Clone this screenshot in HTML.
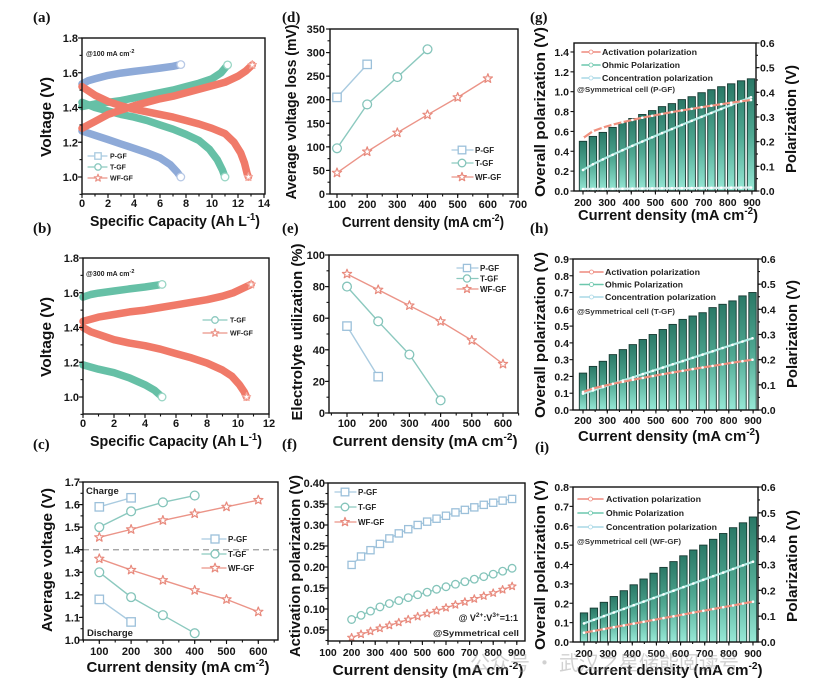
<!DOCTYPE html>
<html><head><meta charset="utf-8">
<style>
html,body{margin:0;padding:0;background:#fff;}
svg{display:block;font-family:"Liberation Sans","Noto Sans CJK SC",sans-serif;}
.t{font-size:11px;font-weight:bold;fill:#161616;}
.ts{font-size:10.5px;font-weight:bold;fill:#161616;}
.ti{font-size:15px;font-weight:bold;fill:#111;}
.pl{font-family:"Liberation Serif",serif;font-size:15px;font-weight:bold;fill:#111;}
.lg{font-size:8px;font-weight:bold;fill:#222;}
.lg7{font-size:7px;font-weight:bold;fill:#222;}
.wm{font-family:"Noto Sans CJK SC",sans-serif;font-size:20px;fill:#9a9a9a;opacity:0.45;}
</style></head><body>
<svg id="s" width="830" height="696" viewBox="0 0 830 696" xmlns="http://www.w3.org/2000/svg">
<defs>
<linearGradient id="bg" x1="0" y1="0" x2="0" y2="1">
<stop offset="0" stop-color="#2a7866"/><stop offset="0.5" stop-color="#4fa892"/><stop offset="1" stop-color="#97e8d6"/>
</linearGradient>
</defs>
<rect width="830" height="696" fill="#fff"/>
<g id="data"></g>
<g id="axes"></g>

<!-- panel labels -->
<text class="pl" x="33" y="22">(a)</text>
<text class="pl" x="33" y="233">(b)</text>
<text class="pl" x="33" y="449">(c)</text>
<text class="pl" x="282" y="22">(d)</text>
<text class="pl" x="282" y="233">(e)</text>
<text class="pl" x="282" y="449">(f)</text>
<text class="pl" x="530" y="22">(g)</text>
<text class="pl" x="530" y="233">(h)</text>
<text class="pl" x="535" y="452">(i)</text>

<!-- (a) -->
<g class="t" text-anchor="end">
<text x="78" y="42">1.8</text><text x="78" y="76.8">1.6</text><text x="78" y="111.5">1.4</text><text x="78" y="146.3">1.2</text><text x="78" y="181">1.0</text>
</g>
<g class="t" text-anchor="middle">
<text x="82" y="207">0</text><text x="108" y="207">2</text><text x="134" y="207">4</text><text x="160" y="207">6</text><text x="186" y="207">8</text><text x="212" y="207">10</text><text x="238" y="207">12</text><text x="264" y="207">14</text>
</g>
<text class="ti" x="175" y="226" text-anchor="middle" textLength="170" lengthAdjust="spacingAndGlyphs">Specific Capacity (Ah L<tspan dy="-6" font-size="10">-1</tspan><tspan dy="6">)</tspan></text>
<text class="ti" transform="translate(51,117) rotate(-90)" text-anchor="middle" textLength="80" lengthAdjust="spacingAndGlyphs">Voltage (V)</text>
<text class="lg7" x="86" y="56">@100 mA cm<tspan dy="-3" font-size="5.5">-2</tspan></text>
<text class="lg7" x="110" y="158.5">P-GF</text>
<text class="lg7" x="110" y="169.5">T-GF</text>
<text class="lg7" x="110" y="180.5">WF-GF</text>

<!-- (b) -->
<g class="t" text-anchor="end">
<text x="79" y="262">1.8</text><text x="79" y="296.8">1.6</text><text x="79" y="331.5">1.4</text><text x="79" y="366.3">1.2</text><text x="79" y="401">1.0</text>
</g>
<g class="t" text-anchor="middle">
<text x="83" y="427">0</text><text x="114" y="427">2</text><text x="145" y="427">4</text><text x="176" y="427">6</text><text x="207" y="427">8</text><text x="238" y="427">10</text><text x="269" y="427">12</text>
</g>
<text class="ti" x="176" y="446" text-anchor="middle" textLength="172" lengthAdjust="spacingAndGlyphs">Specific Capacity (Ah L<tspan dy="-6" font-size="10">-1</tspan><tspan dy="6">)</tspan></text>
<text class="ti" transform="translate(51,337) rotate(-90)" text-anchor="middle" textLength="80" lengthAdjust="spacingAndGlyphs">Voltage (V)</text>
<text class="lg7" x="86" y="276">@300 mA cm<tspan dy="-3" font-size="5.5">-2</tspan></text>
<text class="lg7" x="230" y="322.5">T-GF</text>
<text class="lg7" x="230" y="335.5">WF-GF</text>

<!-- (c) -->
<g class="t" text-anchor="end">
<text x="80" y="486">1.7</text><text x="80" y="508.6">1.6</text><text x="80" y="531.1">1.5</text><text x="80" y="553.7">1.4</text><text x="80" y="576.3">1.3</text><text x="80" y="598.9">1.2</text><text x="80" y="621.4">1.1</text><text x="80" y="644">1.0</text>
</g>
<g class="t" text-anchor="middle">
<text x="99.3" y="655">100</text><text x="131.1" y="655">200</text><text x="162.9" y="655">300</text><text x="194.7" y="655">400</text><text x="226.5" y="655">500</text><text x="258.3" y="655">600</text>
</g>
<text class="ti" x="178" y="672" text-anchor="middle" textLength="183" lengthAdjust="spacingAndGlyphs">Current density (mA cm<tspan dy="-6" font-size="10">-2</tspan><tspan dy="6">)</tspan></text>
<text class="ti" transform="translate(52,560) rotate(-90)" text-anchor="middle" textLength="144" lengthAdjust="spacingAndGlyphs">Average voltage (V)</text>
<text x="86" y="494" font-size="9.5" font-weight="bold" fill="#222">Charge</text>
<text x="87" y="636" font-size="9.5" font-weight="bold" fill="#222">Discharge</text>
<text class="lg" x="228" y="542">P-GF</text>
<text class="lg" x="228" y="557">T-GF</text>
<text class="lg" x="228" y="571">WF-GF</text>

<!-- (d) -->
<g class="t" text-anchor="end">
<text x="325" y="33">350</text><text x="325" y="56.6">300</text><text x="325" y="80.2">250</text><text x="325" y="103.7">200</text><text x="325" y="127.3">150</text><text x="325" y="150.9">100</text><text x="325" y="174.4">50</text><text x="325" y="198">0</text>
</g>
<g class="t" text-anchor="middle">
<text x="337" y="208">100</text><text x="367.2" y="208">200</text><text x="397.3" y="208">300</text><text x="427.5" y="208">400</text><text x="457.7" y="208">500</text><text x="487.8" y="208">600</text><text x="518" y="208">700</text>
</g>
<text class="ti" x="423" y="227" text-anchor="middle" textLength="162" lengthAdjust="spacingAndGlyphs">Current density (mA cm<tspan dy="-6" font-size="10">-2</tspan><tspan dy="6">)</tspan></text>
<text class="ti" transform="translate(296,112) rotate(-90)" text-anchor="middle" textLength="175" lengthAdjust="spacingAndGlyphs">Average voltage loss (mV)</text>
<text class="lg" x="475" y="153">P-GF</text>
<text class="lg" x="475" y="166">T-GF</text>
<text class="lg" x="475" y="180">WF-GF</text>

<!-- (e) -->
<g class="t" text-anchor="end">
<text x="325" y="259">100</text><text x="325" y="290.6">80</text><text x="325" y="322.2">60</text><text x="325" y="353.8">40</text><text x="325" y="385.4">20</text><text x="325" y="417">0</text>
</g>
<g class="t" text-anchor="middle">
<text x="347" y="427">100</text><text x="378.2" y="427">200</text><text x="409.4" y="427">300</text><text x="440.6" y="427">400</text><text x="471.8" y="427">500</text><text x="503" y="427">600</text>
</g>
<text class="ti" x="425" y="446" text-anchor="middle" textLength="185" lengthAdjust="spacingAndGlyphs">Current density (mA cm<tspan dy="-6" font-size="10">-2</tspan><tspan dy="6">)</tspan></text>
<text class="ti" transform="translate(302,332) rotate(-90)" text-anchor="middle" textLength="177" lengthAdjust="spacingAndGlyphs">Electrolyte utilization (%)</text>
<text class="lg" x="480" y="271">P-GF</text>
<text class="lg" x="480" y="281.5">T-GF</text>
<text class="lg" x="480" y="292">WF-GF</text>

<!-- (f) -->
<g class="t" text-anchor="end">
<text x="325" y="487">0.40</text><text x="325" y="508">0.35</text><text x="325" y="529">0.30</text><text x="325" y="550">0.25</text><text x="325" y="571">0.20</text><text x="325" y="592">0.15</text><text x="325" y="613">0.10</text><text x="325" y="634">0.05</text>
</g>
<g class="ts" text-anchor="middle">
<text x="328" y="656">100</text><text x="351.6" y="656">200</text><text x="375.2" y="656">300</text><text x="398.8" y="656">400</text><text x="422.4" y="656">500</text><text x="446" y="656">600</text><text x="469.6" y="656">700</text><text x="493.2" y="656">800</text><text x="516.8" y="656">900</text>
</g>
<text class="ti" x="428" y="675" text-anchor="middle" textLength="191" lengthAdjust="spacingAndGlyphs">Current density (mA cm<tspan dy="-6" font-size="10">-2</tspan><tspan dy="6">)</tspan></text>
<text class="ti" transform="translate(300,566) rotate(-90)" text-anchor="middle" textLength="182" lengthAdjust="spacingAndGlyphs">Activation polarization (V)</text>
<text class="lg" x="358" y="495">P-GF</text>
<text class="lg" x="358" y="510">T-GF</text>
<text class="lg" x="358" y="525">WF-GF</text>
<text x="518" y="621" text-anchor="end" font-size="9" font-weight="bold" fill="#222">@ V<tspan dy="-4" font-size="6.5">2+</tspan><tspan dy="4">:V</tspan><tspan dy="-4" font-size="6.5">3+</tspan><tspan dy="4">=1:1</tspan></text>
<text x="519" y="636" text-anchor="end" font-size="8.5" font-weight="bold" fill="#222" textLength="86" lengthAdjust="spacingAndGlyphs">@Symmetrical cell</text>

<!-- (g) -->
<g class="ts" text-anchor="end">
<text x="569" y="56">1.4</text><text x="569" y="75.8">1.2</text><text x="569" y="95.7">1.0</text><text x="569" y="115.6">0.8</text><text x="569" y="135.4">0.6</text><text x="569" y="155.3">0.4</text><text x="569" y="175.1">0.2</text><text x="569" y="195">0.0</text>
</g>
<g class="ts">
<text x="760" y="47">0.6</text><text x="760" y="71.7">0.5</text><text x="760" y="96.3">0.4</text><text x="760" y="121">0.3</text><text x="760" y="145.7">0.2</text><text x="760" y="170.3">0.1</text><text x="760" y="195">0.0</text>
</g>
<g class="ts" text-anchor="middle">
<text x="583" y="206">200</text><text x="607.1" y="206">300</text><text x="631.3" y="206">400</text><text x="655.4" y="206">500</text><text x="679.6" y="206">600</text><text x="703.7" y="206">700</text><text x="727.8" y="206">800</text><text x="752" y="206">900</text>
</g>
<text class="ti" x="668" y="220" text-anchor="middle" textLength="180" lengthAdjust="spacingAndGlyphs">Current density (mA cm<tspan dy="-6" font-size="10">-2</tspan><tspan dy="6">)</tspan></text>
<text class="ti" transform="translate(545,112) rotate(-90)" text-anchor="middle" textLength="170" lengthAdjust="spacingAndGlyphs">Overall polarization (V)</text>
<text class="ti" transform="translate(796,119) rotate(-90)" text-anchor="middle" textLength="108" lengthAdjust="spacingAndGlyphs">Polarization (V)</text>
<text class="lg" x="602" y="55" textLength="95" lengthAdjust="spacingAndGlyphs">Activation polarization</text>
<text class="lg" x="602" y="68" textLength="78" lengthAdjust="spacingAndGlyphs">Ohmic Polarization</text>
<text class="lg" x="602" y="81" textLength="111" lengthAdjust="spacingAndGlyphs">Concentration polarization</text>
<text x="577" y="92" font-size="7.5" font-weight="bold" fill="#333" textLength="98" lengthAdjust="spacingAndGlyphs">@Symmetrical cell (P-GF)</text>

<!-- (h) -->
<g class="ts" text-anchor="end">
<text x="569" y="263">0.9</text><text x="569" y="279.8">0.8</text><text x="569" y="296.5">0.7</text><text x="569" y="313.3">0.6</text><text x="569" y="330.1">0.5</text><text x="569" y="346.9">0.4</text><text x="569" y="363.7">0.3</text><text x="569" y="380.4">0.2</text><text x="569" y="397.2">0.1</text><text x="569" y="414">0.0</text>
</g>
<g class="ts">
<text x="761" y="263">0.6</text><text x="761" y="288.2">0.5</text><text x="761" y="313.3">0.4</text><text x="761" y="338.5">0.3</text><text x="761" y="363.7">0.2</text><text x="761" y="388.8">0.1</text><text x="761" y="414">0.0</text>
</g>
<g class="ts" text-anchor="middle">
<text x="583" y="424">200</text><text x="607.3" y="424">300</text><text x="631.6" y="424">400</text><text x="655.9" y="424">500</text><text x="680.1" y="424">600</text><text x="704.4" y="424">700</text><text x="728.7" y="424">800</text><text x="753" y="424">900</text>
</g>
<text class="ti" x="669" y="441" text-anchor="middle" textLength="182" lengthAdjust="spacingAndGlyphs">Current density (mA cm<tspan dy="-6" font-size="10">-2</tspan><tspan dy="6">)</tspan></text>
<text class="ti" transform="translate(545,335) rotate(-90)" text-anchor="middle" textLength="166" lengthAdjust="spacingAndGlyphs">Overall polarization (V)</text>
<text class="ti" transform="translate(797,334) rotate(-90)" text-anchor="middle" textLength="108" lengthAdjust="spacingAndGlyphs">Polarization (V)</text>
<text class="lg" x="605" y="275" textLength="95" lengthAdjust="spacingAndGlyphs">Activation polarization</text>
<text class="lg" x="605" y="287.5" textLength="78" lengthAdjust="spacingAndGlyphs">Ohmic Polarization</text>
<text class="lg" x="605" y="300" textLength="111" lengthAdjust="spacingAndGlyphs">Concentration polarization</text>
<text x="577" y="314" font-size="7.5" font-weight="bold" fill="#333" textLength="98" lengthAdjust="spacingAndGlyphs">@Symmetrical cell (T-GF)</text>

<!-- (i) -->
<g class="ts" text-anchor="end">
<text x="569" y="491">0.8</text><text x="569" y="510.4">0.7</text><text x="569" y="529.8">0.6</text><text x="569" y="549.1">0.5</text><text x="569" y="568.5">0.4</text><text x="569" y="587.9">0.3</text><text x="569" y="607.3">0.2</text><text x="569" y="626.6">0.1</text><text x="569" y="646">0.0</text>
</g>
<g class="ts">
<text x="761" y="491">0.6</text><text x="761" y="516.8">0.5</text><text x="761" y="542.7">0.4</text><text x="761" y="568.5">0.3</text><text x="761" y="594.3">0.2</text><text x="761" y="620.2">0.1</text><text x="761" y="646">0.0</text>
</g>
<g class="ts" text-anchor="middle">
<text x="584" y="657">200</text><text x="608.1" y="657">300</text><text x="632.3" y="657">400</text><text x="656.4" y="657">500</text><text x="680.6" y="657">600</text><text x="704.7" y="657">700</text><text x="728.9" y="657">800</text><text x="753" y="657">900</text>
</g>
<text class="ti" x="670" y="675" text-anchor="middle" textLength="185" lengthAdjust="spacingAndGlyphs">Current density (mA cm<tspan dy="-6" font-size="10">-2</tspan><tspan dy="6">)</tspan></text>
<text class="ti" transform="translate(545,565) rotate(-90)" text-anchor="middle" textLength="170" lengthAdjust="spacingAndGlyphs">Overall polarization (V)</text>
<text class="ti" transform="translate(797,566) rotate(-90)" text-anchor="middle" textLength="112" lengthAdjust="spacingAndGlyphs">Polarization (V)</text>
<text class="lg" x="606" y="502" textLength="95" lengthAdjust="spacingAndGlyphs">Activation polarization</text>
<text class="lg" x="606" y="516" textLength="78" lengthAdjust="spacingAndGlyphs">Ohmic Polarization</text>
<text class="lg" x="606" y="530" textLength="111" lengthAdjust="spacingAndGlyphs">Concentration polarization</text>
<text x="577" y="544" font-size="7.5" font-weight="bold" fill="#333" textLength="104" lengthAdjust="spacingAndGlyphs">@Symmetrical cell (WF-GF)</text>

<!-- watermark -->
<text class="wm" x="470" y="670">公众号 · 武汉之星储能阅读号</text>
</svg>

<script>
(function(){
const NS='http://www.w3.org/2000/svg';
const D=document.getElementById('data'), A=document.getElementById('axes');
function el(p,tag,at){const e=document.createElementNS(NS,tag);for(const k in at)e.setAttribute(k,at[k]);p.appendChild(e);return e;}
function poly(p,pts,col,w,extra){el(p,'polyline',Object.assign({points:pts.map(q=>q[0].toFixed(1)+','+q[1].toFixed(1)).join(' '),fill:'none',stroke:col,'stroke-width':w,'stroke-linejoin':'round','stroke-linecap':'round'},extra||{}));}
function marker(p,type,x,y,col,s){s=s||4.2;
 if(type=='sq') el(p,'rect',{x:x-s,y:y-s,width:2*s,height:2*s,fill:'#fff',stroke:col,'stroke-width':1.3});
 else if(type=='ci') el(p,'circle',{cx:x,cy:y,r:s,fill:'#fff',stroke:col,'stroke-width':1.3});
 else if(type=='dot') el(p,'circle',{cx:x,cy:y,r:s,fill:'#fff',stroke:col,'stroke-width':0.6});
 else {let pts=[];for(let i=0;i<10;i++){const r=i%2?s*0.5:s*1.2;const a=-Math.PI/2+i*Math.PI/5;pts.push((x+r*Math.cos(a)).toFixed(1)+','+(y+r*Math.sin(a)).toFixed(1));}
   el(p,'polygon',{points:pts.join(' '),fill:'#fff',stroke:col,'stroke-width':1.2,'stroke-linejoin':'round'});}
}
function box(x0,y0,x1,y1){el(A,'rect',{x:x0,y:y0,width:x1-x0,height:y1-y0,fill:'none',stroke:'#111','stroke-width':1.4});}
function yt(x,ys,len,side){ys.forEach(y=>el(A,'line',{x1:x,x2:x+side*len,y1:y,y2:y,stroke:'#111','stroke-width':1.1}));}
function xt(y,xs,len){xs.forEach(x=>el(A,'line',{x1:x,x2:x,y1:y,y2:y+len,stroke:'#111','stroke-width':1.1}));}
function range(a,b,s){const r=[];for(let v=a;v<=b+1e-9;v+=s)r.push(v);return r;}

const CB='#8eaad8', CT='#66c0a6', CR='#f07a69';
const LP='#a9cbe0', LT='#8cc9bf', LR='#eb9488';
const MP='#9cc0da', MT='#84c4ba', MR='#e88a7d';

/* ---------- (a) ---------- */
(function(){
 const X=v=>82+v*13, Y=v=>177-(v-1)*173.75;
 box(82,38,265,194);
 yt(82,range(1.0,1.8,0.2).map(Y),4,-1); yt(82,range(0.9,1.8,0.1).map(Y),2.5,-1);
 xt(194,range(0,14,2).map(X),4); xt(194,range(0,14,1).map(X),2.5);
 const cur=(pts,col)=>poly(D,pts.map(p=>[X(p[0]),Y(p[1])]),col,7.5);
 cur([[0,1.535],[0.5,1.555],[1,1.565],[2,1.585],[3,1.598],[4,1.608],[5,1.617],[6,1.627],[7,1.637],[7.6,1.647]],CB);
 cur([[0,1.265],[1,1.24],[2,1.215],[3,1.19],[4,1.165],[5,1.14],[6,1.11],[6.8,1.07],[7.3,1.03],[7.6,1.0]],CB);
 cur([[0,1.405],[1,1.42],[2,1.43],[3,1.44],[4,1.455],[5,1.47],[6,1.485],[7,1.5],[8,1.52],[9,1.54],[10,1.565],[10.7,1.6],[11.2,1.645]],CT);
 cur([[0,1.43],[1,1.40],[2,1.38],[3,1.36],[4,1.345],[5,1.325],[6,1.3],[7,1.275],[8,1.245],[9,1.21],[9.8,1.16],[10.4,1.1],[10.8,1.04],[11.0,1.0]],CT);
 cur([[0,1.28],[1,1.32],[2,1.36],[3,1.385],[4,1.41],[5,1.43],[6,1.45],[7,1.465],[8,1.485],[9,1.505],[10,1.525],[11,1.545],[12,1.58],[12.6,1.61],[13.1,1.645]],CR);
 cur([[0,1.52],[1,1.47],[2,1.435],[3,1.41],[4,1.39],[5,1.375],[6,1.36],[7,1.345],[8,1.325],[9,1.305],[10,1.28],[11,1.25],[11.7,1.2],[12.2,1.14],[12.5,1.08],[12.7,1.02],[12.8,1.0]],CR);
 marker(D,'ci',X(7.6),Y(1.647),'#b8c9e6',3.8); marker(D,'ci',X(7.6),Y(1.0),'#b8c9e6',3.8);
 marker(D,'ci',X(11.2),Y(1.645),'#9ad6c5',3.8); marker(D,'ci',X(11.0),Y(1.0),'#9ad6c5',3.8);
 marker(D,'st',X(13.1),Y(1.645),'#f2a69b',3.6); marker(D,'st',X(12.8),Y(1.0),'#f2a69b',3.6);
 [[156,LP,'sq'],[167,LT,'ci'],[178,LR,'st']].forEach(r=>{poly(D,[[88,r[0]],[107,r[0]]],r[1],1.2);marker(D,r[2],98,r[0],r[1],3.2);});
})();

/* ---------- (b) ---------- */
(function(){
 const X=v=>83+v*15.5, Y=v=>397-(v-1)*173.75;
 box(83,258,269,414);
 yt(83,range(1.0,1.8,0.2).map(Y),4,-1); yt(83,range(0.9,1.8,0.1).map(Y),2.5,-1);
 xt(414,range(0,12,2).map(X),4); xt(414,range(0,12,1).map(X),2.5);
 const cur=(pts,col)=>poly(D,pts.map(p=>[X(p[0]),Y(p[1])]),col,7.5);
 cur([[0,1.575],[0.5,1.59],[1,1.598],[2,1.61],[3,1.622],[4,1.633],[5.1,1.648]],CT);
 cur([[0,1.185],[1,1.16],[2,1.14],[3,1.11],[4,1.07],[4.6,1.04],[5.1,1.0]],CT);
 cur([[0,1.435],[1,1.46],[2,1.475],[3,1.49],[4,1.5],[5,1.515],[6,1.53],[7,1.545],[8,1.56],[9,1.58],[9.7,1.6],[10.3,1.625],[10.85,1.648]],CR);
 cur([[0,1.4],[0.5,1.375],[1,1.36],[2,1.33],[3,1.31],[4,1.295],[5,1.275],[6,1.25],[7,1.225],[8,1.195],[9,1.155],[9.6,1.12],[10.1,1.07],[10.4,1.03],[10.55,1.0]],CR);
 marker(D,'ci',X(5.1),Y(1.648),'#9ad6c5',3.8); marker(D,'ci',X(5.1),Y(1.0),'#9ad6c5',3.8);
 marker(D,'st',X(10.85),Y(1.648),'#f2a69b',3.6); marker(D,'st',X(10.55),Y(1.0),'#f2a69b',3.6);
 [[320,LT,'ci'],[333,LR,'st']].forEach(r=>{poly(D,[[203,r[0]],[227,r[0]]],r[1],1.2);marker(D,r[2],215,r[0],r[1],3.3);});
})();

function series(X,Y,xs,ys,lc,mc,type,s){poly(D,xs.map((x,i)=>[X(x),Y(ys[i])]),lc,1.4);xs.forEach((x,i)=>marker(D,type,X(x),Y(ys[i]),mc,s));}

/* ---------- (c) ---------- */
(function(){
 const X=v=>99.3+(v-100)*0.318, Y=v=>640-(v-1)*225.7;
 el(D,'line',{x1:83,x2:278,y1:Y(1.4),y2:Y(1.4),stroke:'#9a9a9a','stroke-width':1.3,'stroke-dasharray':'6,4'});
 box(83,482,278,640);
 yt(83,range(1.0,1.7,0.1).map(Y),4,-1); yt(83,range(1.0,1.7,0.05).map(Y),2.5,-1);
 xt(640,range(100,600,100).map(X),4); xt(640,range(50,650,50).map(X),2.5);
 series(X,Y,[100,200],[1.59,1.63],LP,MP,'sq',4.2);
 series(X,Y,[100,200],[1.18,1.08],LP,MP,'sq',4.2);
 series(X,Y,[100,200,300,400],[1.50,1.57,1.61,1.64],LT,MT,'ci',4.4);
 series(X,Y,[100,200,300,400],[1.30,1.19,1.11,1.03],LT,MT,'ci',4.4);
 series(X,Y,[100,200,300,400,500,600],[1.455,1.49,1.53,1.56,1.59,1.62],LR,MR,'st',4);
 series(X,Y,[100,200,300,400,500,600],[1.36,1.31,1.265,1.22,1.18,1.125],LR,MR,'st',4);
 [[539,LP,MP,'sq'],[554,LT,MT,'ci'],[568,LR,MR,'st']].forEach(r=>{poly(D,[[202,r[0]],[226,r[0]]],r[1],1.3);marker(D,r[3],215,r[0],r[2],4);});
})();

/* ---------- (d) ---------- */
(function(){
 const X=v=>337+(v-100)*0.3017, Y=v=>194-v*0.4714;
 box(330,29,518,194);
 yt(330,range(0,350,50).map(Y),4,-1); yt(330,range(0,350,25).map(Y),2.5,-1);
 xt(194,range(100,700,100).map(X),4); xt(194,range(100,700,50).map(X),2.5);
 series(X,Y,[100,200],[205,275],LP,MP,'sq',4.2);
 series(X,Y,[100,200,300,400],[97,190,248,307],LT,MT,'ci',4.4);
 series(X,Y,[100,200,300,400,500,600],[45,90,130,168,205,245],LR,MR,'st',4);
 [[150,LP,MP,'sq'],[163,LT,MT,'ci'],[177,LR,MR,'st']].forEach(r=>{poly(D,[[452,r[0]],[473,r[0]]],r[1],1.3);marker(D,r[3],462,r[0],r[2],3.8);});
})();

/* ---------- (e) ---------- */
(function(){
 const X=v=>347+(v-100)*0.312, Y=v=>413-v*1.58;
 box(329,255,518,413);
 yt(329,range(0,100,20).map(Y),4,-1); yt(329,range(0,100,10).map(Y),2.5,-1);
 xt(413,range(100,600,100).map(X),4); xt(413,range(50,650,50).map(X),2.5);
 series(X,Y,[100,200],[55,23],LP,MP,'sq',4.2);
 series(X,Y,[100,200,300,400],[80,58,37,8],LT,MT,'ci',4.4);
 series(X,Y,[100,200,300,400,500,600],[88,78,68,58,46,31],LR,MR,'st',4);
 [[268,LP,MP,'sq'],[278.5,LT,MT,'ci'],[289,LR,MR,'st']].forEach(r=>{poly(D,[[457,r[0]],[478,r[0]]],r[1],1.3);marker(D,r[3],467,r[0],r[2],3.6);});
})();

/* ---------- (f) ---------- */
(function(){
 const X=v=>328+(v-100)*0.236, Y=v=>630-(v-0.05)*420;
 box(328,483,525,641);
 yt(328,range(0.05,0.40,0.05).map(Y),4,-1); yt(328,range(0.025,0.40,0.025).map(Y),2.5,-1);
 xt(641,range(100,900,100).map(X),4); xt(641,range(100,900,50).map(X),2.5);
 const xs=range(200,880,40);
 series(X,Y,xs,[0.205,0.225,0.24,0.255,0.268,0.28,0.29,0.30,0.308,0.315,0.322,0.33,0.336,0.342,0.348,0.353,0.358,0.362],LP,MP,'sq',3.6);
 series(X,Y,xs,[0.075,0.085,0.095,0.105,0.113,0.12,0.127,0.134,0.14,0.147,0.153,0.159,0.165,0.171,0.177,0.183,0.19,0.197],LT,MT,'ci',3.8);
 series(X,Y,xs,[0.032,0.04,0.047,0.054,0.061,0.068,0.075,0.082,0.089,0.096,0.103,0.11,0.117,0.124,0.131,0.138,0.146,0.154],LR,MR,'st',3.4);
 [[492,LP,MP,'sq'],[507,LT,MT,'ci'],[522,LR,MR,'st']].forEach(r=>{poly(D,[[335,r[0]],[356,r[0]]],r[1],1.3);marker(D,r[3],345,r[0],r[2],3.8);});
})();

/* ---------- bar panels ---------- */
function barPanel(o){
 const bx=k=>o.x0+k*o.step;
 for(let k=0;k<18;k++){const y=o.YL(o.bars[k]);el(D,'rect',{x:(bx(k)-3.7).toFixed(1),y:y.toFixed(1),width:7.4,height:(o.bot-y).toFixed(1),fill:'url(#bg)',stroke:'#173a32','stroke-width':0.9});}
 o.lines.forEach(l=>{
   const pts=[];for(let k=0;k<18;k++){const t=k/17;pts.push([bx(k),o.YR(l.f(t))]);}
   poly(D,pts,l.c,2.2);
   pts.forEach(p=>el(D,'circle',{cx:p[0].toFixed(1),cy:p[1].toFixed(1),r:1.3,fill:'#fff'}));
 });
 box(o.bx0,o.top,o.bx1,o.bot);
 yt(o.bx0,o.lt.map(o.YL),3.5,-1); yt(o.bx1,o.rt.map(o.YR),3.5,1);
 yt(o.bx1,o.rtm.map(o.YR),2,1);
 xt(o.bot,range(200,900,100).map(o.X),3.5); xt(o.bot,range(200,900,50).map(o.X),2);
 o.leg.forEach((y,i)=>{const c=['#ee8a7e','#6cc7ad','#a9d8e6'][i];poly(D,[[o.lx0,y],[o.lx1,y]],c,1.6);el(D,'circle',{cx:(o.lx0+o.lx1)/2,cy:y,r:2,fill:'#fff',stroke:c,'stroke-width':0.8});});
}
barPanel({x0:583,step:9.88,X:v=>583+(v-200)*0.2414,YL:v=>191-v*99.3,YR:v=>191-v*246.7,bot:191,top:43,bx0:574,bx1:756,
 bars:[0.50,0.55,0.59,0.64,0.69,0.73,0.77,0.81,0.85,0.88,0.92,0.95,0.99,1.02,1.05,1.08,1.11,1.13],
 lines:[{c:'#dbeff0',f:t=>0.008+0.006*t},{c:'#b9efe9',f:t=>0.085+0.295*Math.pow(t,0.9)},{c:'#f0917f',f:t=>0.214+0.155*Math.pow(t,0.6)}],
 lt:range(0,1.4,0.2),rt:range(0,0.6,0.1),rtm:range(0,0.6,0.05),leg:[52,65,78],lx0:582,lx1:600});
barPanel({x0:583,step:9.97,X:v=>583+(v-200)*0.243,YL:v=>410-v*167.8,YR:v=>410-v*251.7,bot:410,top:259,bx0:573,bx1:758,
 bars:[0.22,0.26,0.29,0.33,0.36,0.39,0.42,0.45,0.48,0.51,0.54,0.56,0.58,0.61,0.63,0.65,0.68,0.70],
 lines:[{c:'#b9efe9',f:t=>0.065+0.22*t},{c:'#f0917f',f:t=>0.072+0.128*Math.pow(t,0.8)}],
 lt:range(0,0.9,0.1),rt:range(0,0.6,0.1),rtm:range(0,0.6,0.05),leg:[272,284.5,297],lx0:580,lx1:603});
barPanel({x0:584,step:9.94,X:v=>584+(v-200)*0.2414,YL:v=>642-v*193.75,YR:v=>642-v*258.3,bot:642,top:487,bx0:573,bx1:758,
 bars:[0.15,0.175,0.205,0.235,0.265,0.295,0.325,0.355,0.385,0.415,0.445,0.475,0.50,0.53,0.56,0.59,0.615,0.645],
 lines:[{c:'#b9efe9',f:t=>0.072+0.239*t},{c:'#f0917f',f:t=>0.036+0.12*t}],
 lt:range(0,0.8,0.1),rt:range(0,0.6,0.1),rtm:range(0,0.6,0.05),leg:[499,513,527],lx0:578,lx1:603});
})();
</script>
</body></html>
